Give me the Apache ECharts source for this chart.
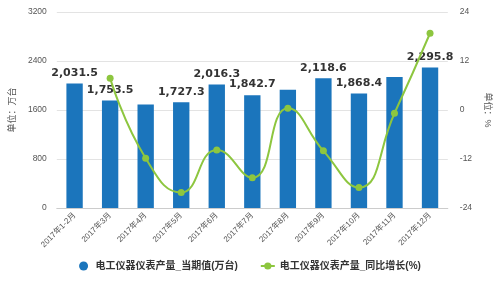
<!DOCTYPE html>
<html><head><meta charset="utf-8">
<script src="https://cdn.jsdelivr.net/npm/echarts@6/dist/echarts.min.js"></script>
<style>html,body{margin:0;padding:0;background:#fff}#c{width:500px;height:282px}</style>
</head><body><div id="c"></div>
<script>
var categories = ['2017年1-2月','2017年3月','2017年4月','2017年5月','2017年6月','2017年7月','2017年8月','2017年9月','2017年10月','2017年11月','2017年12月'];
var outputValues = [2031.5, 1753.5, 1690, 1727.3, 2016.3, 1842.7, 1930, 2118.6, 1868.4, 2140, 2295.8];
var showLabel = [true, true, false, true, true, true, false, true, true, false, true];
var growthValues = [null, 7.8, -11.8, -20.2, -9.8, -16.6, 0.4, -10.0, -19.0, -0.8, 18.8];
var leftTicks = [0, 800, 1600, 2400, 3200];
var rightTicks = [-24, -12, 0, 12, 24];
var seriesNames = ['电工仪器仪表产量_当期值(万台)', '电工仪器仪表产量_同比增长(%)'];

var chart = echarts.init(document.getElementById('c'));
var fontFam = 'Arial, "Liberation Sans", "Noto Sans CJK SC", sans-serif';
chart.setOption({
  animation: false,
  textStyle: {fontFamily: fontFam},
  grid: {left: 46, right: 45, top: 12, bottom: 74},
  legend: {
    bottom: 6, itemGap: 22, itemWidth: 14, itemHeight: 9,
    textStyle: {fontSize: 10, fontWeight: 'bold', color: '#333', fontFamily: fontFam},
    data: [{name: seriesNames[0], icon: 'circle'}, {name: seriesNames[1]}]
  },
  xAxis: {
    type: 'category', data: categories,
    axisLine: {lineStyle: {color: '#ccc'}},
    axisTick: {alignWithLabel: true, lineStyle: {color: '#ccc'}},
    axisLabel: {rotate: 45, fontSize: 8, color: '#555', margin: 6, interval: 0}
  },
  yAxis: [{
    type: 'value', min: leftTicks[0], max: leftTicks[leftTicks.length - 1], interval: 800,
    name: '单位：万台', nameLocation: 'middle', nameGap: 35, nameRotate: 90,
    nameTextStyle: {fontSize: 9, color: '#555'},
    axisLine: {show: false}, axisTick: {show: false},
    axisLabel: {fontSize: 8.5, color: '#555', margin: 10, formatter: function (v) { return String(v); }},
    splitLine: {lineStyle: {color: '#e3e3e3'}}
  }, {
    type: 'value', min: rightTicks[0], max: rightTicks[rightTicks.length - 1], interval: 12,
    name: '单位：%', nameLocation: 'middle', nameGap: 32, nameRotate: -90,
    nameTextStyle: {fontSize: 9, color: '#555'},
    axisLine: {show: false}, axisTick: {show: false},
    axisLabel: {fontSize: 8.5, color: '#555', margin: 12, formatter: function (v) { return String(v); }},
    splitLine: {show: false}
  }],
  series: [{
    name: seriesNames[0], type: 'bar', barWidth: '46%',
    itemStyle: {color: '#1b75bc'},
    data: outputValues.map(function (v, i) {
      return {value: v, label: {show: showLabel[i]}};
    }),
    label: {
      position: 'top', distance: 5, fontSize: 11, fontWeight: 'bold', color: '#333',
      fontFamily: '"DejaVu Sans", Verdana, sans-serif',
      formatter: function (p) {
        return p.value.toLocaleString('en-US', {minimumFractionDigits: 1, maximumFractionDigits: 1});
      }
    }
  }, {
    name: seriesNames[1], type: 'line', yAxisIndex: 1, smooth: true,
    symbol: 'circle', symbolSize: 7,
    itemStyle: {color: '#8dc63f'}, lineStyle: {color: '#8dc63f', width: 2},
    data: growthValues
  }]
});
</script></body></html>
